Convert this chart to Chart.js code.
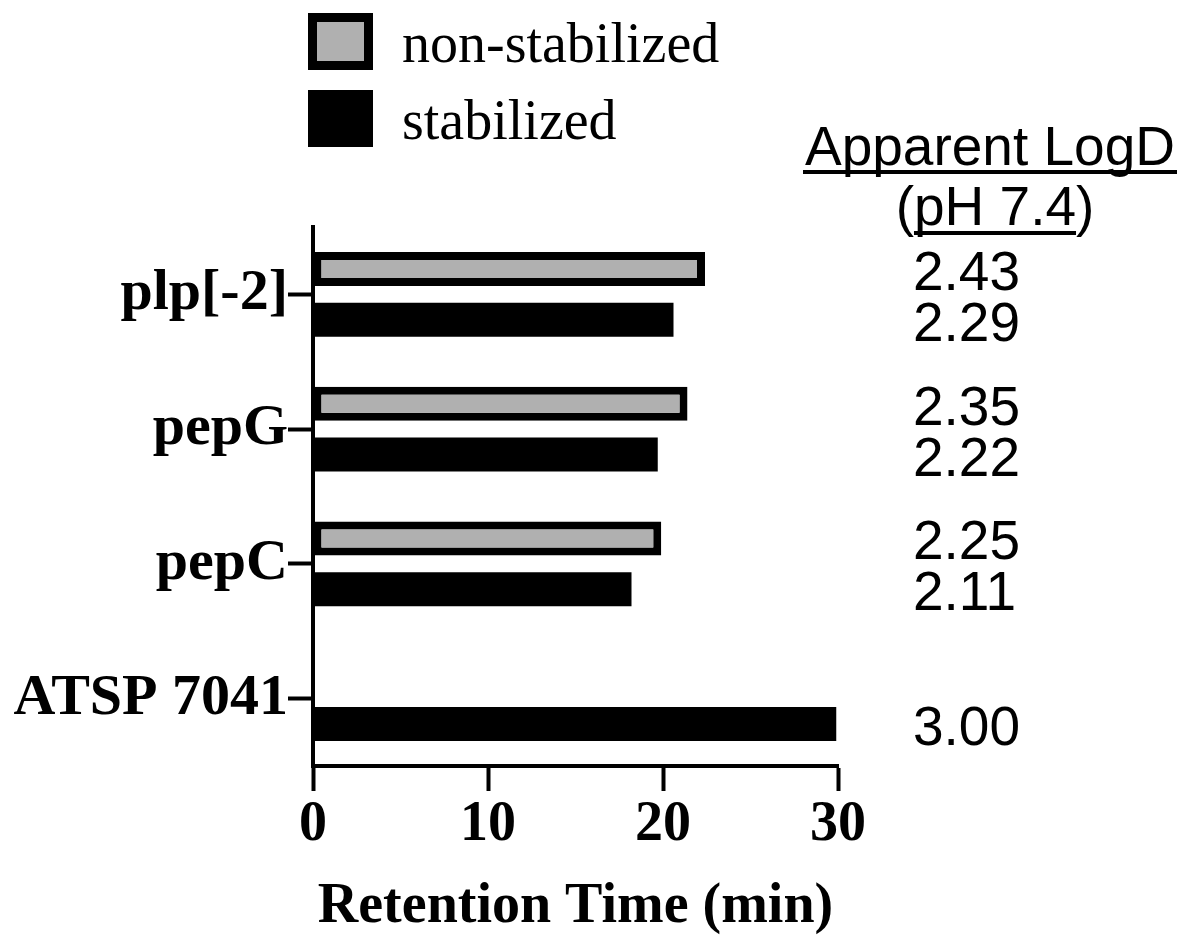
<!DOCTYPE html>
<html>
<head>
<meta charset="utf-8">
<script src="https://cdn.jsdelivr.net/npm/chart.js@4/dist/chart.umd.min.js"></script>
<style>
  body { margin: 0; background: #fff; }
  canvas { display: block; }
</style>
</head>
<body>
<canvas id="myChart" width="1192" height="936"></canvas>
<script>
// data
const peptides = ["plp[-2]", "pepG", "pepC", "ATSP 7041"];
const nonStabTime = [22.4, 21.4, 19.9, null];
const stabTime = [20.6, 19.7, 18.2, 29.9];
const nonStabLogD = [2.43, 2.35, 2.25, null];
const stabLogD = [2.29, 2.22, 2.11, 3.00];
const xTicks = [0, 10, 20, 30];

const serif = "'Liberation Serif', 'Times New Roman', serif";
const sans = "'Liberation Sans', Arial, sans-serif";

// legend drawn by hand, stacked at top left of the plot
const legendPlugin = {
    id: "stackLegend",
    afterDraw: (chart) => {
        const ctx = chart.ctx;
        const sets = chart.data.datasets;
        const boxes = [{ y: 13, base: 62 }, { y: 90, base: 139 }];
        ctx.save();
        sets.forEach((ds, i) => {
            const b = boxes[i];
            ctx.fillStyle = ds.borderColor;
            ctx.fillRect(308, b.y, 65, 57);
            if (ds.borderWidth > 0) {
                ctx.fillStyle = ds.backgroundColor;
                ctx.fillRect(308 + 9, b.y + 9, 65 - 18, 57 - 18);
            }
            ctx.fillStyle = "#000";
            ctx.font = "56px " + serif;
            ctx.textAlign = "left";
            ctx.textBaseline = "alphabetic";
            ctx.fillText(ds.label, 402, b.base);
        });
        ctx.restore();
    }
};

// LogD column on the right, lined up with each bar
const logdPlugin = {
    id: "logdColumn",
    afterDraw: (chart) => {
        const ctx = chart.ctx;
        ctx.save();
        ctx.fillStyle = "#000";
        ctx.font = "55px " + sans;
        ctx.textAlign = "center";
        ctx.textBaseline = "alphabetic";
        ctx.fillText("Apparent LogD", 990, 165);
        ctx.fillRect(803, 170, 374, 4);
        ctx.fillText("(pH 7.4)", 995, 225);
        const w = ctx.measureText("(pH 7.4)").width;
        const pw = ctx.measureText("(").width;
        const iw = ctx.measureText("pH 7.4").width;
        const start = 995 - w / 2 + pw;
        ctx.fillRect(start, 231, iw, 4);

        ctx.textAlign = "left";
        const logs = [nonStabLogD, stabLogD];
        logs.forEach((arr, di) => {
            const meta = chart.getDatasetMeta(di);
            arr.forEach((v, i) => {
                if (v === null) return;
                const bar = meta.data[i];
                ctx.fillText(v.toFixed(2), 913, bar.y + 1 + 20);
            });
        });
        ctx.restore();
    }
};

const conf = {
    type: "bar",
    data: {
        labels: peptides,
        datasets: [
            {
                label: "non-stabilized",
                data: nonStabTime,
                backgroundColor: "#b0b0b0",
                borderColor: "#000",
                borderWidth: 8,
                borderSkipped: false
            },
            {
                label: "stabilized",
                data: stabTime,
                backgroundColor: "#000",
                borderColor: "#000",
                borderWidth: 0
            }
        ]
    },
    options: {
        indexAxis: "y",
        responsive: false,
        animation: false,
        devicePixelRatio: 1,
        categoryPercentage: 0.756,
        barPercentage: 0.667,
        layout: { padding: { top: 227, right: 354, left: 0, bottom: 0 } },
        plugins: {
            legend: { display: false },
            tooltip: { enabled: false }
        },
        scales: {
            x: {
                min: 0,
                max: 30,
                afterFit: (s) => { s.height = 170; },
                afterBuildTicks: (s) => { s.ticks = xTicks.map(v => ({ value: v })); },
                border: { display: true, color: "#000", width: 4 },
                grid: {
                    drawOnChartArea: false,
                    drawTicks: true,
                    tickLength: 25,
                    tickWidth: 4,
                    tickColor: "#000"
                },
                ticks: {
                    color: "#000",
                    padding: 7,
                    font: { family: serif, size: 56, weight: "bold", lineHeight: 1 }
                },
                title: {
                    display: true,
                    text: "Retention Time (min)",
                    color: "#000",
                    padding: { top: 0, bottom: 0 },
                    font: { family: serif, size: 56, weight: "bold", lineHeight: 1 }
                }
            },
            y: {
                afterFit: (s) => { s.width = 313; },
                border: { display: true, color: "#000", width: 4 },
                grid: {
                    offset: false,
                    drawOnChartArea: false,
                    drawTicks: true,
                    tickLength: 25,
                    tickWidth: 4,
                    tickColor: "#000"
                },
                ticks: {
                    color: "#000",
                    padding: 0,
                    font: { family: serif, size: 58, weight: "bold", lineHeight: 1 }
                }
            }
        }
    },
    plugins: [legendPlugin, logdPlugin]
};

new Chart(document.getElementById("myChart"), conf);
</script>
</body>
</html>
